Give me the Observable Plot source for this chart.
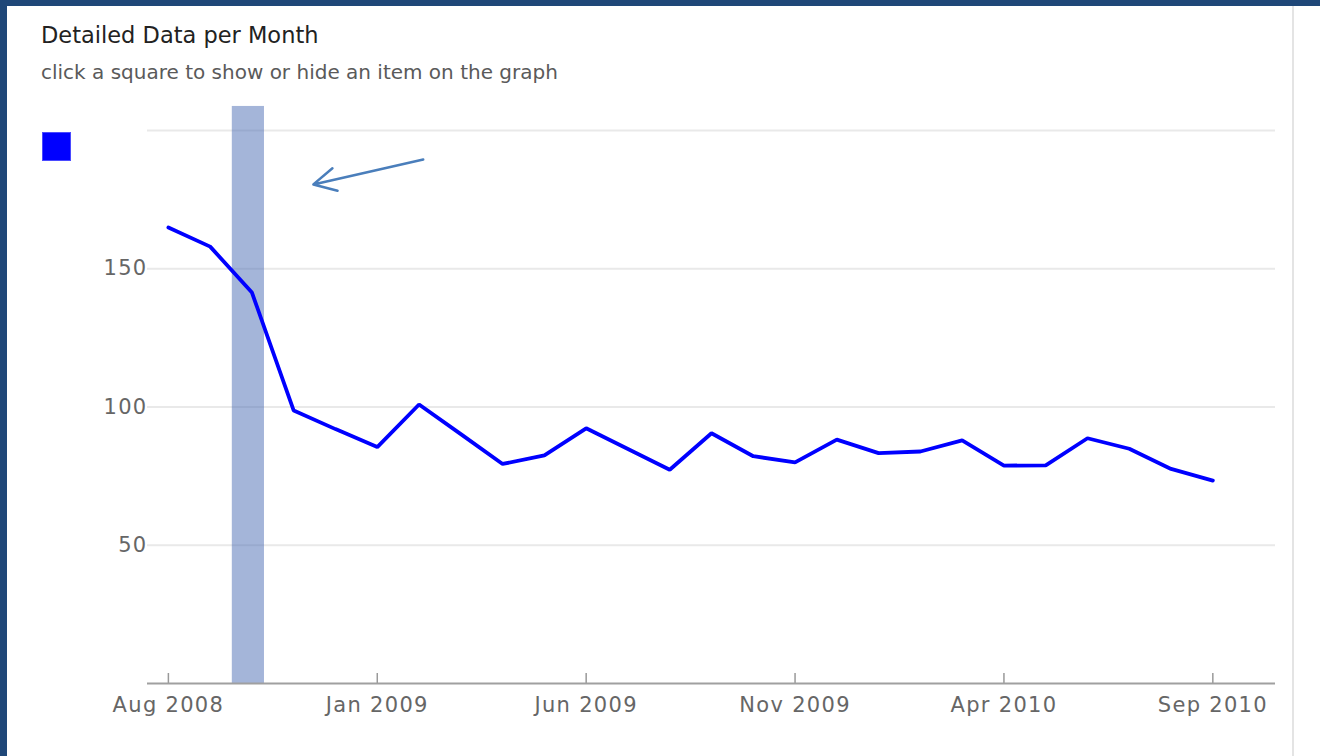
<!DOCTYPE html>
<html>
<head>
<meta charset="utf-8">
<script src="https://cdn.jsdelivr.net/npm/d3@7"></script>
<script src="https://cdn.jsdelivr.net/npm/@observablehq/plot@0.6"></script>
<style>
  html, body { margin: 0; padding: 0; background: #fff; width: 1320px; height: 756px; overflow: hidden; }
  #page { position: relative; width: 1320px; height: 756px; }
  #topbar { position: absolute; left: 0; top: 0; width: 1320px; height: 6px; background: #1f4778; }
  #leftbar { position: absolute; left: 0; top: 0; width: 7px; height: 756px; background: #1f4778; }
  #rightline { position: absolute; left: 1292px; top: 6px; width: 2px; height: 750px; background: #e4e4e4; }
  #title { position: absolute; left: 41px; top: 24px; font-family: "DejaVu Sans"; font-size: 22.5px; line-height: 1; color: #222; white-space: nowrap; }
  #subtitle { position: absolute; left: 41px; top: 62px; font-family: "DejaVu Sans"; font-size: 20px; line-height: 1; color: #5a5a5a; white-space: nowrap; }
  #legend { position: absolute; left: 42px; top: 132px; width: 27px; height: 27px; background: #0000ff; border: 1px solid #4a4aff; cursor: pointer; }
  #chart { position: absolute; left: 0; top: 95px; }
</style>
</head>
<body>
<div id="page">
  <div id="chart"></div>
  <div id="topbar"></div>
  <div id="leftbar"></div>
  <div id="rightline"></div>
  <div id="title">Detailed Data per Month</div>
  <div id="subtitle">click a square to show or hide an item on the graph</div>
  <div id="legend"></div>
</div>
<script>
const months = ["Aug 2008","Sep 2008","Oct 2008","Nov 2008","Dec 2008","Jan 2009","Feb 2009","Mar 2009","Apr 2009","May 2009","Jun 2009","Jul 2009","Aug 2009","Sep 2009","Oct 2009","Nov 2009","Dec 2009","Jan 2010","Feb 2010","Mar 2010","Apr 2010","May 2010","Jun 2010","Jul 2010","Aug 2010","Sep 2010"];
const values = [164.9,158,141.4,98.7,92,85.5,100.9,90.2,79.4,82.5,92.3,84.8,77.3,90.5,82.2,80,88.2,83.3,83.9,87.9,78.8,78.9,88.7,84.9,77.6,73.4];
const xTickIndex = [0,5,10,15,20,25];
const yTicks = [50,100,150];
const gridTicks = [50,100,150,200];
const highlight = [{start: 1.53, end: 2.3, top: 208.7}];
const arrows = [{x1: 6.1, y1: 189.5, x2: 3.47, y2: 180.5}];

const data = months.map((m, i) => ({i, month: m, value: values[i]}));

const chart = Plot.plot({
  width: 1320,
  height: 640,
  marginLeft: 147,
  marginRight: 45,
  marginTop: 35,
  marginBottom: 52,
  style: {fontFamily: "DejaVu Sans", fontSize: "21px", letterSpacing: "1.3px", color: "#666", background: "transparent", overflow: "visible"},
  x: {domain: [-0.5, 26.5]},
  y: {domain: [0, 200]},
  marks: [
    Plot.gridY(gridTicks, {stroke: "#e9e9e9", strokeOpacity: 1, strokeWidth: 2}),
    Plot.rectX(highlight, {x1: "start", x2: "end", y1: 0, y2: "top", fill: "#4a6cb3", fillOpacity: 0.5, clip: false}),
    Plot.axisY(yTicks, {tickSize: 0, tickPadding: 0, label: null, fill: "#666"}),
    Plot.axisX(xTickIndex, {tickSize: 10, dy: -10, text: null, stroke: "#999", strokeWidth: 1.5, label: null}),
    Plot.axisX(xTickIndex, {tickSize: 0, tickPadding: 14, tickFormat: i => months[i], label: null, fill: "#666"}),
    Plot.ruleY([0], {stroke: "#a0a0a0", strokeWidth: 2}),
    Plot.line(data, {x: "i", y: "value", stroke: "#0000ff", strokeWidth: 3.8, strokeLinejoin: "miter"}),
    Plot.arrow(arrows, {x1: "x1", y1: "y1", x2: "x2", y2: "y2", stroke: "#4a7ebb", strokeWidth: 2.5, headLength: 15, headAngle: 55, clip: false})
  ]
});
document.getElementById("chart").appendChild(chart);
</script>
</body>
</html>
